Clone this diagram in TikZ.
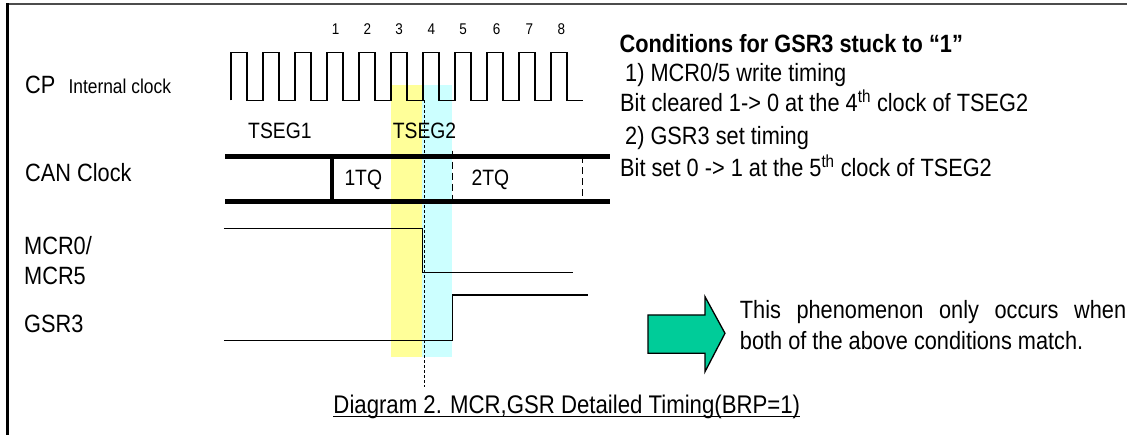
\documentclass[tikz,border=0pt]{standalone}
\usepackage{fontspec}
\setmainfont{Liberation Sans}[FakeStretch=0.87]
\definecolor{bandyellow}{HTML}{FFFF99}
\definecolor{bandcyan}{HTML}{CCFFFF}
\definecolor{arrowgreen}{HTML}{00CC99}
\begin{document}
\begin{tikzpicture}[x=1pt,y=-1pt,
  lbl/.style={inner sep=0pt, anchor=base west, font=\fontsize{25}{30}\selectfont},
  seglbl/.style={inner sep=0pt, anchor=base west, font=\fontsize{22.2}{26}\selectfont},
  small/.style={inner sep=0pt, anchor=base west, font=\fontsize{20}{24}\selectfont},
  num/.style={inner sep=0pt, anchor=base, font=\fontsize{15.5}{18}\selectfont},
  wave/.style={line width=1.3pt, line join=miter},
  sig/.style={line width=1.4pt, line join=miter},
  bar/.style={line width=4.7pt},
  tqmark/.style={line width=1.5pt, dash pattern=on 7pt off 4pt},
]
\useasboundingbox (0,0) rectangle (1127,435);

% highlighted clock periods
\fill[bandyellow] (391,85) rectangle (421.7,357.3);
\fill[bandcyan] (421.7,85) rectangle (452.2,357.3);

% frame
\draw[line width=2pt, black!70] (6,4.4) -- (1127,4.4);
\draw[line width=2.4pt] (7.4,3.4) -- (7.4,435);

% CP internal clock
\draw[wave] (231,100.5) foreach \k in {0,...,10} { -- ++(0,-48.2) -- ++(16,0) -- ++(0,48.2) -- ++(16,0) };
\foreach \n/\x in {1/335.6,2/367.4,3/399.2,4/431.3,5/463,6/496.7,7/529.3,8/561.4}
  \node[num] (clk\n) at (\x,34.3) {\n};

\node[lbl] (cp) at (25,93.3) {CP};
\node[small] (cpint) at (68.3,93.3) {Internal clock};
\node[seglbl] (tseg1) at (248,139) {TSEG1};
\node[seglbl] (tseg2) at (392.7,139) {TSEG2};

% CAN clock time quanta
\node[lbl] (can) at (25,181.7) {CAN Clock};
\draw[bar] (225,156.5) -- (609.6,156.5);
\draw[bar] (225,201.7) -- (609.6,201.7);
\draw[line width=4pt] (331.5,156.5) -- (331.5,201.7);
\draw[tqmark] (452.4,150.7) -- (452.4,201.7);
\draw[tqmark] (582.6,156.5) -- (582.6,201.7);
\node[seglbl] (tq1) at (344.3,185.5) {1TQ};
\node[seglbl] (tq2) at (471.5,185.5) {2TQ};

% reference edge
\draw[line width=0.7pt, dash pattern=on 3pt off 2pt] (424.3,100.5) -- (424.3,387.3);

% MCR0/MCR5 and GSR3
\node[lbl] (mcra) at (24,255) {MCR0/};
\node[lbl] (mcrb) at (24,285) {MCR5};
\node[lbl] (gsr) at (24,333) {GSR3};
\draw[sig] (223.9,228.7) -- (422.7,228.7) -- (422.7,272.7) -- (572.9,272.7);
\draw[sig] (223.9,340.3) -- (452.2,340.3) -- (452.2,295) -- (588.2,295);

% conditions
\node[lbl, font=\fontsize{25}{30}\selectfont\bfseries] (cond) at (619.5,52.3) {Conditions for GSR3 stuck to “1”};
\node[lbl] (c1) at (625,81.7) {1) MCR0/5 write timing};
\node[lbl] (c1b) at (620,111.7) {Bit cleared 1-> 0 at the 4\textsuperscript{th} clock of TSEG2};
\node[lbl] (c2) at (625,145) {2) GSR3 set timing};
\node[lbl] (c2b) at (620,176.7) {Bit set 0 -> 1 at the 5\textsuperscript{th} clock of TSEG2};

% conclusion arrow
\draw[fill=arrowgreen, line width=1.3pt, line join=miter]
  (648,315) -- (705,315) -- (705,296.7) -- (725,333.3) -- (705,371.7) -- (705,353.3) -- (648,353.3) -- cycle;
\node[lbl] (note1) at (739.7,318.3) {\makebox[386.3pt][s]{This phenomenon only occurs when}};
\node[lbl] (note2) at (739.7,350) {both of the above conditions match.};

% caption
\node[lbl, font=\fontsize{25.5}{30}\selectfont, anchor=base] (cap) at (566.8,413.3) {Diagram 2. MCR,GSR Detailed Timing(BRP=1)};
\draw[line width=1.4pt] ([yshift=-3.4pt]cap.base west) -- ([yshift=-3.4pt]cap.base east);
\end{tikzpicture}
\end{document}
